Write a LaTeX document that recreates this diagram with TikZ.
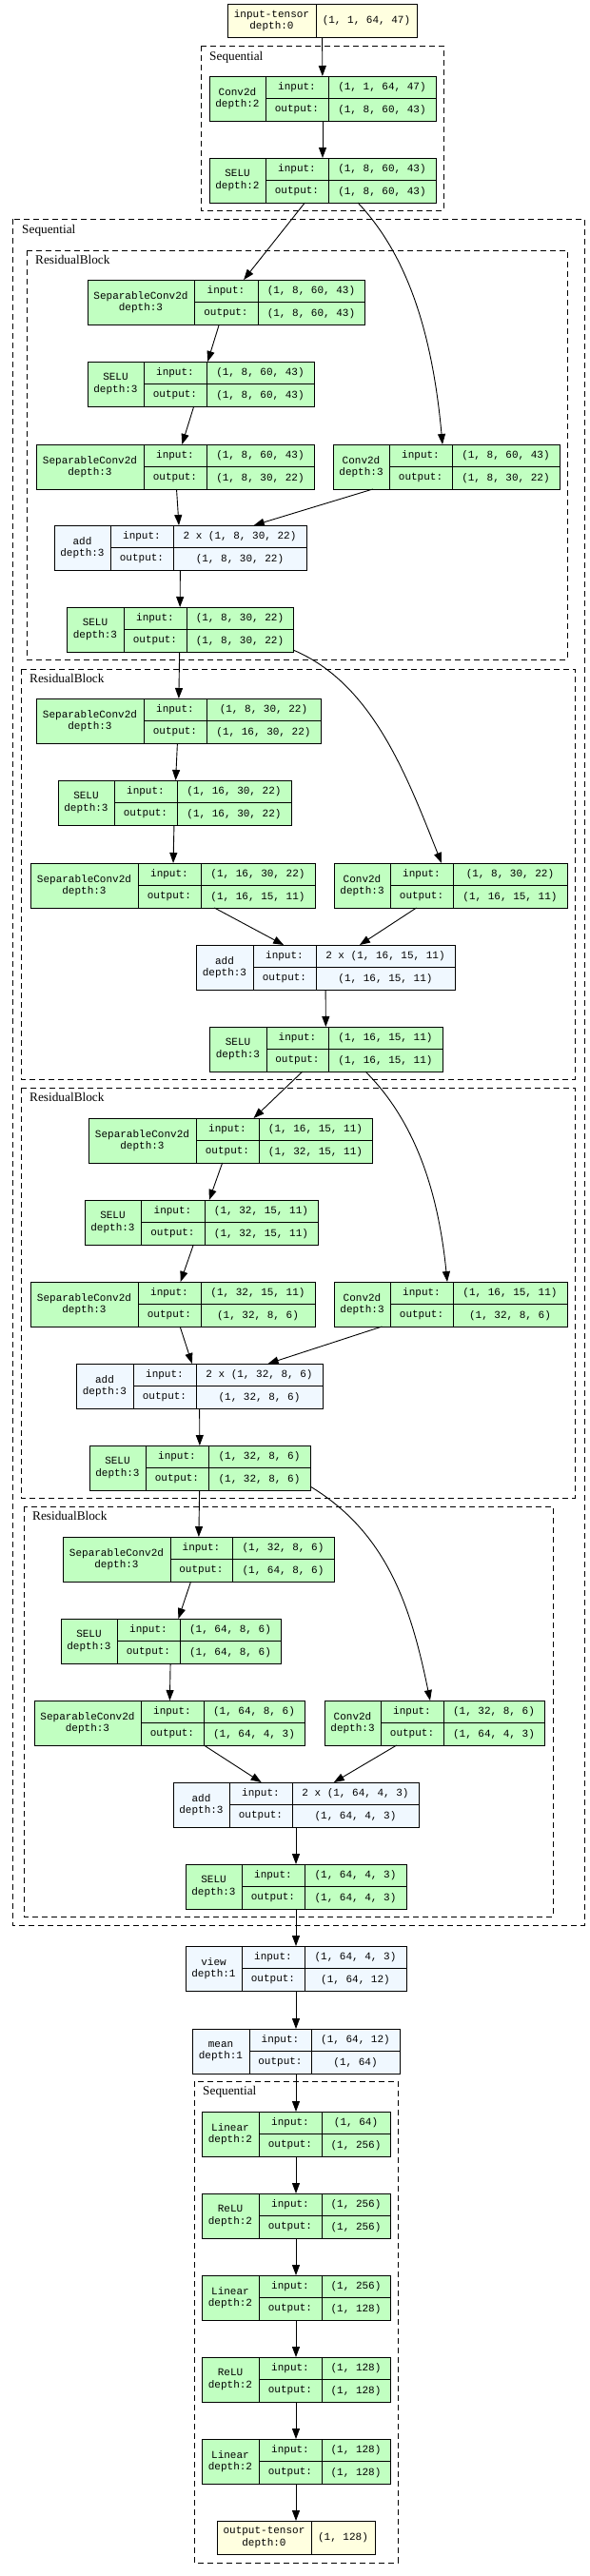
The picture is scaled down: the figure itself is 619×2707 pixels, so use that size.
\documentclass[tikz,border=0pt]{standalone}
\usepackage{fontspec}
\setmainfont{Liberation Serif}
\newfontfamily\recfont{Liberation Mono}
\usepackage{tikz}
\usetikzlibrary{arrows.meta}

\definecolor{modgreen}{HTML}{C1FFC1}
\definecolor{funblue}{HTML}{F0F8FF}
\definecolor{tensyellow}{HTML}{FFFFE0}

\tikzset{
  recbox/.style={draw, line width=1pt, inner sep=0pt, outer sep=0pt},
  rectext/.style={font=\recfont\fontsize{11}{12.5}\selectfont, inner sep=0pt, align=center},
  edge/.style={line width=0.9pt, -{Triangle[length=11pt,width=8pt]}},
  cluster/.style={draw, line width=0.9pt, dash pattern=on 6pt off 4pt},
  clusterlabel/.style={font=\fontsize{13.3}{15}\selectfont, anchor=west, inner sep=0pt},
}

\def\recsplit#1/#2/#3/#4\relax{\def\recxa{#1}\def\recxb{#2}\def\recxc{#3}\def\recxd{#4}}
\def\tenssplit#1/#2/#3\relax{\def\recxa{#1}\def\recxb{#2}\def\recxc{#3}}

% module record: name, fill, cuts x1/x2/x3/x4, top, title, depth, input, output
\newcommand{\modnode}[8]{%
  \recsplit#3\relax
  \node[recbox, fill=#2, minimum width={(\recxd-\recxa)*1pt}, minimum height=47pt]
    (#1) at ({(\recxa+\recxd)/2},{#4+23.5}) {};
  \draw[line width=1pt] (\recxb,#4) -- (\recxb,#4+47)
    (\recxc,#4) -- (\recxc,#4+47) (\recxb,#4+23.5) -- (\recxd,#4+23.5);
  \node[rectext] (#1-t) at ({(\recxa+\recxb)/2},{#4+23.5}) {#5\\depth:#6};
  \node[rectext] (#1-il) at ({(\recxb+\recxc)/2},{#4+11.75}) {input:};
  \node[rectext] (#1-ol) at ({(\recxb+\recxc)/2},{#4+35.25}) {output:};
  \node[rectext] (#1-iv) at ({(\recxc+\recxd)/2},{#4+11.75}) {#7};
  \node[rectext] (#1-ov) at ({(\recxc+\recxd)/2},{#4+35.25}) {#8};
}

% tensor record: name, cuts x1/x2/x3, top, title, shape
\newcommand{\tensnode}[5]{%
  \tenssplit#2\relax
  \node[recbox, fill=tensyellow, minimum width={(\recxc-\recxa)*1pt}, minimum height=35pt]
    (#1) at ({(\recxa+\recxc)/2},{#3+17.5}) {};
  \draw[line width=1pt] (\recxb,#3) -- (\recxb,#3+35);
  \node[rectext] (#1-t) at ({(\recxa+\recxb)/2},{#3+17.5}) {#4\\depth:0};
  \node[rectext] (#1-v) at ({(\recxb+\recxc)/2},{#3+17.5}) {#5};
}

\begin{document}
\begin{tikzpicture}[x=1pt, y=-1pt]
  \useasboundingbox (0,0) rectangle (619,2707);

  % clusters
  \draw[cluster] (211,48) rectangle (466,221);
  \node[clusterlabel] (seqa-lbl) at (220,60) {Sequential};
  \draw[cluster] (13,230) rectangle (614,2023);
  \node[clusterlabel] (seqb-lbl) at (23,242) {Sequential};
  \draw[cluster] (28,263) rectangle (596,693);
  \node[clusterlabel] (resa-lbl) at (37,273) {ResidualBlock};
  \draw[cluster] (22,703) rectangle (604,1134);
  \node[clusterlabel] (resb-lbl) at (31,713) {ResidualBlock};
  \draw[cluster] (22,1143) rectangle (604,1574);
  \node[clusterlabel] (resc-lbl) at (31,1153) {ResidualBlock};
  \draw[cluster] (25,1583) rectangle (581,2014);
  \node[clusterlabel] (resd-lbl) at (34,1593) {ResidualBlock};
  \draw[cluster] (204,2187) rectangle (418,2693);
  \node[clusterlabel] (seqc-lbl) at (213,2198) {Sequential};

  % stem
  \tensnode{in0}{239/332/438}{4}{input-tensor}{(1, 1, 64, 47)}
  \modnode{c0}{modgreen}{220/279/345/458}{80}{Conv2d}{2}{(1, 1, 64, 47)}{(1, 8, 60, 43)}
  \modnode{s0}{modgreen}{220/279/345/458}{166}{SELU}{2}{(1, 8, 60, 43)}{(1, 8, 60, 43)}

  % residual block 1
  \modnode{r1a}{modgreen}{92/204/271/383}{294}{SeparableConv2d}{3}{(1, 8, 60, 43)}{(1, 8, 60, 43)}
  \modnode{r1b}{modgreen}{92/151/217/330}{380}{SELU}{3}{(1, 8, 60, 43)}{(1, 8, 60, 43)}
  \modnode{r1c}{modgreen}{38/151/217/330}{467}{SeparableConv2d}{3}{(1, 8, 60, 43)}{(1, 8, 30, 22)}
  \modnode{r1d}{modgreen}{350/409/475/588}{467}{Conv2d}{3}{(1, 8, 60, 43)}{(1, 8, 30, 22)}
  \modnode{r1e}{funblue}{57/116/182/322}{552}{add}{3}{2 x (1, 8, 30, 22)}{(1, 8, 30, 22)}
  \modnode{r1f}{modgreen}{70/130/196/308}{638}{SELU}{3}{(1, 8, 30, 22)}{(1, 8, 30, 22)}

  % residual block 2
  \modnode{r2a}{modgreen}{38/151/217/337}{734}{SeparableConv2d}{3}{(1, 8, 30, 22)}{(1, 16, 30, 22)}
  \modnode{r2b}{modgreen}{61/120/186/306}{820}{SELU}{3}{(1, 16, 30, 22)}{(1, 16, 30, 22)}
  \modnode{r2c}{modgreen}{32/145/211/331}{907}{SeparableConv2d}{3}{(1, 16, 30, 22)}{(1, 16, 15, 11)}
  \modnode{r2d}{modgreen}{351/410/476/596}{907}{Conv2d}{3}{(1, 8, 30, 22)}{(1, 16, 15, 11)}
  \modnode{r2e}{funblue}{206/266/332/478}{993}{add}{3}{2 x (1, 16, 15, 11)}{(1, 16, 15, 11)}
  \modnode{r2f}{modgreen}{220/280/345/465}{1079}{SELU}{3}{(1, 16, 15, 11)}{(1, 16, 15, 11)}

  % residual block 3
  \modnode{r3a}{modgreen}{93/206/272/391}{1175}{SeparableConv2d}{3}{(1, 16, 15, 11)}{(1, 32, 15, 11)}
  \modnode{r3b}{modgreen}{89/148/215/334}{1261}{SELU}{3}{(1, 32, 15, 11)}{(1, 32, 15, 11)}
  \modnode{r3c}{modgreen}{32/145/211/331}{1347}{SeparableConv2d}{3}{(1, 32, 15, 11)}{(1, 32, 8, 6)}
  \modnode{r3d}{modgreen}{351/410/476/596}{1347}{Conv2d}{3}{(1, 16, 15, 11)}{(1, 32, 8, 6)}
  \modnode{r3e}{funblue}{80/140/206/339}{1433}{add}{3}{2 x (1, 32, 8, 6)}{(1, 32, 8, 6)}
  \modnode{r3f}{modgreen}{94/153/219/326}{1519}{SELU}{3}{(1, 32, 8, 6)}{(1, 32, 8, 6)}

  % residual block 4
  \modnode{r4a}{modgreen}{66/179/244/351}{1615}{SeparableConv2d}{3}{(1, 32, 8, 6)}{(1, 64, 8, 6)}
  \modnode{r4b}{modgreen}{64/123/189/295}{1701}{SELU}{3}{(1, 64, 8, 6)}{(1, 64, 8, 6)}
  \modnode{r4c}{modgreen}{36/148/214/320}{1787}{SeparableConv2d}{3}{(1, 64, 8, 6)}{(1, 64, 4, 3)}
  \modnode{r4d}{modgreen}{341/400/466/572}{1787}{Conv2d}{3}{(1, 32, 8, 6)}{(1, 64, 4, 3)}
  \modnode{r4e}{funblue}{182/241/307/440}{1873}{add}{3}{2 x (1, 64, 4, 3)}{(1, 64, 4, 3)}
  \modnode{r4f}{modgreen}{195/254/320/427}{1959}{SELU}{3}{(1, 64, 4, 3)}{(1, 64, 4, 3)}

  % head
  \modnode{vw}{funblue}{195/254/320/427}{2045}{view}{1}{(1, 64, 4, 3)}{(1, 64, 12)}
  \modnode{mn}{funblue}{202/262/327/420}{2132}{mean}{1}{(1, 64, 12)}{(1, 64)}
  \modnode{l1}{modgreen}{212/272/338/410}{2219}{Linear}{2}{(1, 64)}{(1, 256)}
  \modnode{a1}{modgreen}{212/272/338/410}{2305}{ReLU}{2}{(1, 256)}{(1, 256)}
  \modnode{l2}{modgreen}{212/272/338/410}{2391}{Linear}{2}{(1, 256)}{(1, 128)}
  \modnode{a2}{modgreen}{212/272/338/410}{2477}{ReLU}{2}{(1, 128)}{(1, 128)}
  \modnode{l3}{modgreen}{212/272/338/410}{2563}{Linear}{2}{(1, 128)}{(1, 128)}
  \tensnode{out0}{228/327/394}{2649}{output-tensor}{(1, 128)}

  % edges
  \draw[edge] (in0) -- (c0);
  \draw[edge] (c0) -- (s0);
  \draw[edge] (s0) -- (r1a);
  \draw[edge] ([xshift=37pt]s0.south) .. controls +(55,58) and +(-10,-110) .. ([xshift=-4pt]r1d.north);
  \draw[edge] (r1a) -- (r1b);
  \draw[edge] (r1b) -- (r1c);
  \draw[edge] (r1c) -- (r1e);
  \draw[edge] (r1d) -- (r1e);
  \draw[edge] (r1e) -- (r1f);

  \draw[edge] (r1f) -- (r2a);
  \draw[edge] ([yshift=2pt]r1f.south east) .. controls +(83,35) and +(-37,-93) .. ([xshift=-9.5pt]r2d.north);
  \draw[edge] (r2a) -- (r2b);
  \draw[edge] (r2b) -- (r2c);
  \draw[edge] (r2c) -- (r2e);
  \draw[edge] (r2d) -- (r2e);
  \draw[edge] (r2e) -- (r2f);

  \draw[edge] (r2f) -- (r3a);
  \draw[edge] ([xshift=41.5pt]r2f.south) .. controls +(50,50) and +(-10,-100) .. ([xshift=-3.5pt]r3d.north);
  \draw[edge] (r3a) -- (r3b);
  \draw[edge] (r3b) -- (r3c);
  \draw[edge] (r3c) -- (r3e);
  \draw[edge] (r3d) -- (r3e);
  \draw[edge] (r3e) -- (r3f);

  \draw[edge] (r3f) -- (r4a);
  \draw[edge] ([yshift=4pt]r3f.south east) .. controls +(81,49) and +(-20,-98) .. ([xshift=-4.5pt]r4d.north);
  \draw[edge] (r4a) -- (r4b);
  \draw[edge] (r4b) -- (r4c);
  \draw[edge] (r4c) -- (r4e);
  \draw[edge] (r4d) -- (r4e);
  \draw[edge] (r4e) -- (r4f);

  \draw[edge] (r4f) -- (vw);
  \draw[edge] (vw) -- (mn);
  \draw[edge] (mn) -- (l1);
  \draw[edge] (l1) -- (a1);
  \draw[edge] (a1) -- (l2);
  \draw[edge] (l2) -- (a2);
  \draw[edge] (a2) -- (l3);
  \draw[edge] (l3) -- (out0);
\end{tikzpicture}
\end{document}
